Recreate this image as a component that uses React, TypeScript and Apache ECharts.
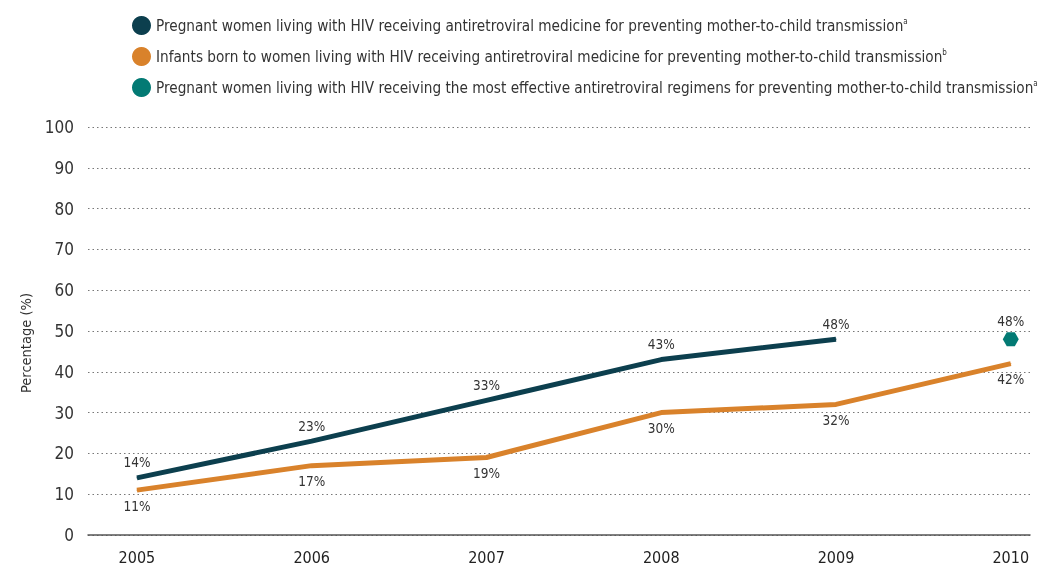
import React, { useEffect, useRef } from "react";
import * as echarts from "echarts";

const years = [2005, 2006, 2007, 2008, 2009, 2010];
const pregnantArv = [14, 23, 33, 43, 48];
const infantsArv = [11, 17, 19, 30, 32, 42];
const effectiveRegimens2010 = 48;
const yTicks = [0, 10, 20, 30, 40, 50, 60, 70, 80, 90, 100];

const seriesNames = [
  "Pregnant women living with HIV receiving antiretroviral medicine for preventing mother-to-child transmission",
  "Infants born to women living with HIV receiving antiretroviral medicine for preventing mother-to-child transmission",
  "Pregnant women living with HIV receiving the most effective antiretroviral regimens for preventing mother-to-child transmission",
];
const seriesNotes = ["a", "b", "a"];

const FONT = "'Liberation Sans Narrow', 'DejaVu Sans Condensed', 'Roboto', sans-serif";
const DARK = "#0c3f4e";
const ORANGE = "#d9822b";
const TEAL = "#037a74";
const TEXT = "#333333";

const HEX = "path://M0,50 L25,6 L75,6 L100,50 L75,94 L25,94 Z";

export default function App() {
  const ref = useRef<HTMLDivElement>(null);
  useEffect(() => {
    if (!ref.current) return;
    const chart = echarts.init(ref.current, undefined, { renderer: "svg" });
    const pct = (p: any) => `${p.value[1]}%`;
    chart.setOption({
      animation: false,
      textStyle: { fontFamily: FONT },
      legend: {
        orient: "vertical",
        left: 127,
        top: 11,
        itemGap: 12,
        itemWidth: 19,
        itemHeight: 19,
        icon: "circle",
        data: seriesNames,
        formatter: (name: string) => {
          const i = seriesNames.indexOf(name);
          return `${name}{sup|${seriesNotes[i]}}`;
        },
        textStyle: {
          fontFamily: FONT,
          fontSize: 15.2,
          color: TEXT,
          rich: {
            sup: { fontFamily: FONT, fontSize: 8, color: TEXT, verticalAlign: "top", padding: [0, 0, 8, 0] },
          },
        },
      },
      grid: { left: 88, right: 11, top: 127, bottom: 39, containLabel: false },
      xAxis: {
        type: "value",
        min: 2004.72,
        max: 2010.11,
        splitNumber: 5,
        minInterval: 1,
        axisLine: { show: true, lineStyle: { color: "#555", width: 1.5 } },
        axisTick: { show: false },
        splitLine: { show: false },
        axisLabel: {
          margin: 14,
          fontSize: 16,
          color: "#222",
          fontFamily: FONT,
          formatter: (v: number) => (years.includes(v) ? String(v) : ""),
          showMinLabel: false,
          showMaxLabel: false,
        },
      },
      yAxis: {
        type: "value",
        min: yTicks[0],
        max: yTicks[yTicks.length - 1],
        interval: 10,
        name: "Percentage (%)",
        nameLocation: "middle",
        nameGap: 52,
        nameRotate: 90,
        nameTextStyle: { fontSize: 14.5, color: TEXT, fontFamily: FONT, padding: [0, 24, 0, 0] },
        axisLine: { show: false },
        axisTick: { show: false },
        axisLabel: { margin: 14, fontSize: 17, color: TEXT, fontFamily: FONT },
        splitLine: { show: true, lineStyle: { type: [1.5, 3], color: "#777", width: 1 } },
      },
      series: [
        {
          name: seriesNames[0],
          type: "line",
          data: pregnantArv.map((v, i) => [years[i], v]),
          symbol: "circle",
          symbolSize: 1,
          itemStyle: { color: DARK },
          lineStyle: { color: DARK, width: 5 },
          label: { show: true, position: "top", distance: 8, formatter: pct, fontSize: 13.5, color: TEXT, fontFamily: FONT },
          z: 3,
        },
        {
          name: seriesNames[1],
          type: "line",
          data: infantsArv.map((v, i) => [years[i], v]),
          symbol: "circle",
          symbolSize: 1,
          itemStyle: { color: ORANGE },
          lineStyle: { color: ORANGE, width: 5 },
          label: { show: true, position: "bottom", distance: 8, formatter: pct, fontSize: 13.5, color: TEXT, fontFamily: FONT },
          z: 2,
        },
        {
          name: seriesNames[2],
          type: "scatter",
          data: [[years[5], effectiveRegimens2010]],
          symbol: HEX,
          symbolSize: [16, 14],
          itemStyle: { color: TEAL, opacity: 1 },
          label: { show: true, position: "top", distance: 4, formatter: pct, fontSize: 13.5, color: TEXT, fontFamily: FONT },
          z: 4,
        },
      ],
    });
    return () => chart.dispose();
  }, []);
  return <div ref={ref} style={{ position: "fixed", left: 0, top: 0, width: 1041, height: 574 }} />;
}
